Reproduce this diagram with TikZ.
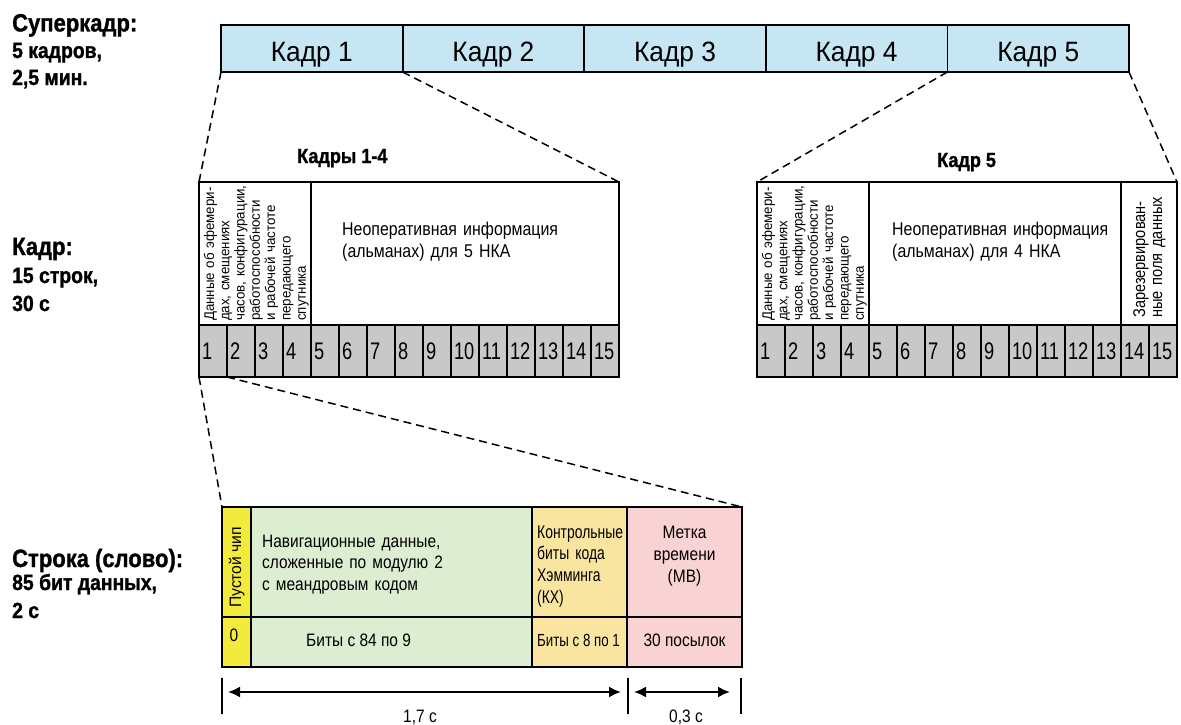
\documentclass[tikz,border=0pt]{standalone}
\usepackage{fontspec}
\setmainfont{Liberation Sans}[FakeStretch=0.86]
\newfontfamily\fwide{Liberation Sans}[FakeStretch=0.95]
\newfontfamily\fnar{Liberation Sans}[FakeStretch=0.76]
\newfontfamily\ftop{Liberation Sans}[FakeStretch=0.94]
\newfontfamily\fbold{Liberation Sans Bold}[FakeStretch=0.88, FakeBold=1.2]
\usetikzlibrary{arrows.meta}
\definecolor{kblue}{HTML}{C5E6F2}
\definecolor{cgray}{HTML}{C8C8C8}
\definecolor{cyel}{HTML}{F2EB3D}
\definecolor{cgreen}{HTML}{DCEDD2}
\definecolor{corange}{HTML}{FAE5A0}
\definecolor{cpink}{HTML}{F9D3D3}
\begin{document}
\begin{tikzpicture}[x=1pt,y=-1pt,
  bx/.style={draw=black, line width=1.8pt, inner sep=0pt, outer sep=0pt, anchor=north west},
  kcell/.style={bx, fill=kblue, minimum width=181.6pt, minimum height=47pt,
    text height=27pt, text depth=0pt, font=\ftop\fontsize{28}{30}\selectfont},
  ncell/.style={bx, line width=1.4pt, fill=cgray, minimum width=28pt, minimum height=52pt,
    text width=22pt, align=left, text height=17pt, text depth=0pt,
    font=\fnar\fontsize{24}{26}\selectfont},
  zoomline/.style={dash pattern=on 8pt off 5pt, line width=1.5pt},
  ttl/.style={anchor=base west, inner sep=0pt, font=\fbold\fontsize{25}{27}\selectfont},
  sublbl/.style={anchor=base west, inner sep=0pt, font=\fbold\fontsize{22}{24}\selectfont},
  hdr/.style={anchor=base west, inner sep=0pt, font=\fbold\fontsize{20.5}{22}\selectfont},
  rotcol/.style={rotate=90, anchor=base west, inner sep=0pt, align=left, text width=150pt,
    font=\fwide\fontsize{14}{15.3}\selectfont},
  txt/.style={anchor=base west, inner sep=0pt, align=left, font=\fontsize{18.5}{22.3}\selectfont},
  small/.style={anchor=base west, inner sep=0pt, font=\fontsize{18}{21}\selectfont},
  tick/.style={line width=2pt},
  dimarrow/.style={line width=2pt, {Latex[length=12pt,width=11pt]}-{Latex[length=12pt,width=11pt]}}
]
\useasboundingbox (0,0) rectangle (1181,725);

% left labels
\node[ttl] (l1) at (12,31.5) {Суперкадр:};
\node[sublbl] (l2) at (12,58) {5 кадров,};
\node[sublbl] (l3) at (12,85) {2,5 мин.};
\node[ttl] (l4) at (12,255) {Кадр:};
\node[sublbl] (l5) at (12,283) {15 строк,};
\node[sublbl] (l6) at (12,311) {30 с};
\node[ttl] (l7) at (12,567) {Строка (слово):};
\node[sublbl] (l8) at (12,590) {85 бит данных,};
\node[sublbl] (l9) at (12,618) {2 с};

% superframe
\foreach \i in {1,...,5} {
  \node[kcell] (k\i) at ({221+181.6*(\i-1)},25) {Кадр \i};
}

% frames 1-4
\node[hdr] (h14) at (297,163) {Кадры 1-4};
\node[bx, minimum width=112pt, minimum height=143pt] (f14a) at (199,182) {};
\node[bx, minimum width=308pt, minimum height=143pt] (f14b) at (311,182) {};
\foreach \i in {1,...,15} {
  \node[ncell] (c\i) at ({199+28*(\i-1)},325) {\i};
}
\node[rotcol] (t14a) at (214,321) {Данные об эфемери-\\дах, смещениях\\часов, конфигурации,\\работоспособности\\и рабочей частоте\\передающего\\спутника};
\node[txt, text width=260pt] (t14b) at (342,235) {Неоперативная информация\\(альманах) для 5 НКА};

% frame 5
\node[hdr] (h5) at (937,167) {Кадр 5};
\node[bx, minimum width=112pt, minimum height=143pt] (f5a) at (757,182) {};
\node[bx, minimum width=252pt, minimum height=143pt] (f5b) at (869,182) {};
\node[bx, minimum width=56pt, minimum height=143pt] (f5c) at (1121,182) {};
\foreach \i in {1,...,15} {
  \node[ncell] (d\i) at ({757+28*(\i-1)},325) {\i};
}
\node[rotcol] (t5a) at (772,321) {Данные об эфемери-\\дах, смещениях\\часов, конфигурации,\\работоспособности\\и рабочей частоте\\передающего\\спутника};
\node[txt, text width=240pt] (t5b) at (892,235) {Неоперативная информация\\(альманах) для 4 НКА};
\node[rotcol, font=\fontsize{17}{17}\selectfont] (t5c) at (1145,318) {Зарезервирован-\\ные поля данных};

% string (word)
\node[bx, fill=cyel, minimum width=29pt, minimum height=110pt] (chipA) at (222,507) {};
\node[bx, fill=cyel, minimum width=29pt, minimum height=50pt] (chipB) at (222,617) {};
\node[bx, fill=cgreen, minimum width=281pt, minimum height=110pt] (navA) at (251,507) {};
\node[bx, fill=cgreen, minimum width=281pt, minimum height=50pt] (navB) at (251,617) {};
\node[bx, fill=corange, minimum width=95pt, minimum height=110pt] (hamA) at (532,507) {};
\node[bx, fill=corange, minimum width=95pt, minimum height=50pt] (hamB) at (532,617) {};
\node[bx, fill=cpink, minimum width=115pt, minimum height=110pt] (tsA) at (627,507) {};
\node[bx, fill=cpink, minimum width=115pt, minimum height=50pt] (tsB) at (627,617) {};

\node[rotate=90, anchor=base west, inner sep=0pt, font=\fwide\fontsize{16.5}{18}\selectfont] (chipT) at (241,608) {Пустой чип};
\node[txt, text width=270pt, font=\fontsize{18}{21.3}\selectfont] (navT) at (262,547.5) {Навигационные данные,\\сложенные по модулю 2\\с меандровым кодом};
\node[txt, text width=90pt, font=\fnar\fontsize{18.3}{21.7}\selectfont] (hamT) at (537,538) {Контрольные\\биты кода\\Хэмминга\\(КХ)};
\node[anchor=base, inner sep=0pt, align=center, text width=110pt, font=\fontsize{18}{22}\selectfont] (tsT) at (684.5,538) {Метка\\времени\\(МВ)};
\node[anchor=base, inner sep=0pt, font=\fontsize{18}{21}\selectfont] (zero) at (234,641.7) {0};
\node[small] (bits1) at (306,646.7) {Биты с 84 по 9};
\node[small, font=\fnar\fontsize{17.5}{21}\selectfont] (bits2) at (537,646.7) {Биты с 8 по 1};
\node[anchor=base, inner sep=0pt, font=\fontsize{18}{21}\selectfont] (bits3) at (684.5,646.7) {30 посылок};

% zoom lines
\draw[zoomline] (k1.south west) -- (f14a.north west);
\draw[zoomline] (k1.south east) -- (f14b.north east);
\draw[zoomline] (k5.south west) -- (f5a.north west);
\draw[zoomline] (k5.south east) -- (f5c.north east);
\draw[zoomline] (c1.south west) -- (chipA.north west);
\draw[zoomline] (c1.south east) -- (tsA.north east);

% dimensions
\coordinate (ta1) at (222,678); \coordinate (ta2) at (222,714);
\coordinate (tb1) at (628,678); \coordinate (tb2) at (628,714);
\coordinate (tc1) at (741,678); \coordinate (tc2) at (741,714);
\draw[tick] (ta1) -- (ta2);
\draw[tick] (tb1) -- (tb2);
\draw[tick] (tc1) -- (tc2);
\coordinate (p1) at (228,692); \coordinate (p2) at (621,692);
\coordinate (p3) at (634,692); \coordinate (p4) at (730,692);
\draw[dimarrow] (p1) -- (p2);
\draw[dimarrow] (p3) -- (p4);
\node[anchor=base, inner sep=0pt, font=\fontsize{18}{21}\selectfont] (d17) at (420,722) {1,7 с};
\node[anchor=base, inner sep=0pt, font=\fontsize{18}{21}\selectfont] (d03) at (686,722) {0,3 с};
\end{tikzpicture}
\end{document}
